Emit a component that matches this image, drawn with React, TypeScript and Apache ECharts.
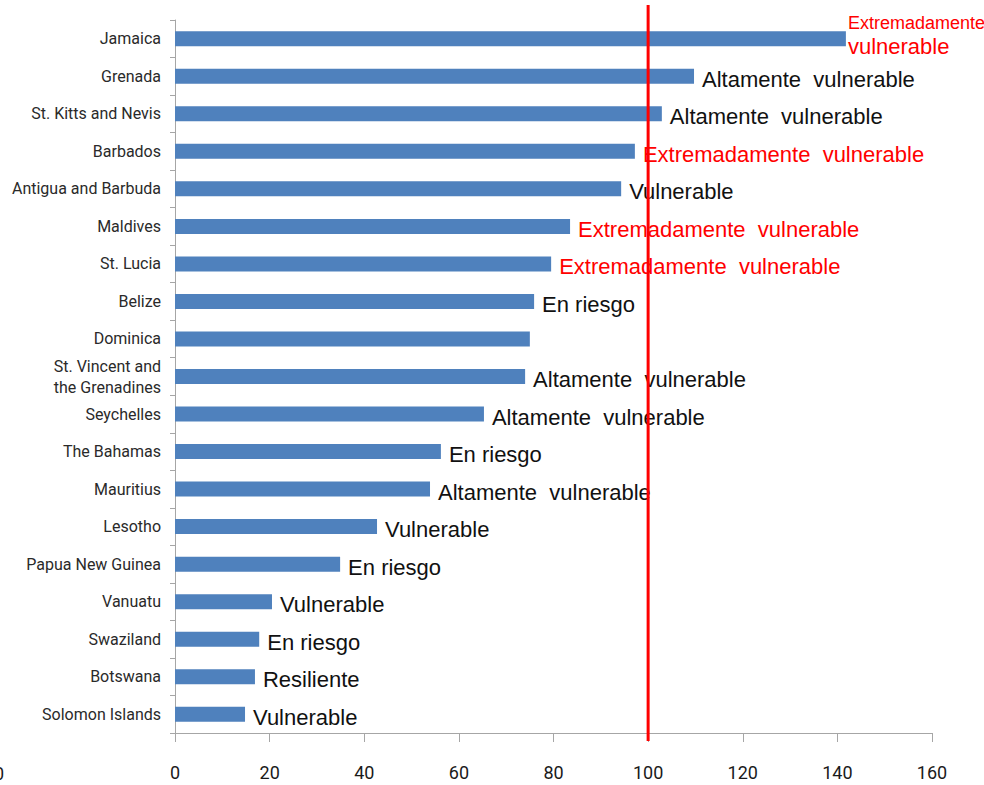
import React, { useEffect, useRef } from "react";
import * as echarts from "echarts";

const categories = [
  "Jamaica",
  "Grenada",
  "St. Kitts and Nevis",
  "Barbados",
  "Antigua and Barbuda",
  "Maldives",
  "St. Lucia",
  "Belize",
  "Dominica",
  "St. Vincent and\nthe Grenadines",
  "Seychelles",
  "The Bahamas",
  "Mauritius",
  "Lesotho",
  "Papua New Guinea",
  "Vanuatu",
  "Swaziland",
  "Botswana",
  "Solomon Islands",
];

const values = [
  141.8, 109.7, 102.9, 97.2, 94.3, 83.5, 79.5, 75.9, 75.0, 74.0, 65.3, 56.2, 53.9, 42.7,
  34.9, 20.5, 17.8, 16.9, 14.8,
];

const ratings = [
  "Extremadamente\nvulnerable",
  "Altamente  vulnerable",
  "Altamente  vulnerable",
  "Extremadamente  vulnerable",
  "Vulnerable",
  "Extremadamente  vulnerable",
  "Extremadamente  vulnerable",
  "En riesgo",
  "",
  "Altamente  vulnerable",
  "Altamente  vulnerable",
  "En riesgo",
  "Altamente  vulnerable",
  "Vulnerable",
  "En riesgo",
  "Vulnerable",
  "En riesgo",
  "Resiliente",
  "Vulnerable",
];

const xTicks = [0, 20, 40, 60, 80, 100, 120, 140, 160];
const threshold = 100;

const CAT = "Roboto, 'Liberation Sans', sans-serif";
const SANS = "'Liberation Sans', Arial, sans-serif";

export default function App() {
  const ref = useRef<HTMLDivElement>(null);

  useEffect(() => {
    if (!ref.current) return;
    const chart = echarts.init(ref.current, null, { renderer: "svg" });

    const data = values.map((v, i) => {
      const r = ratings[i];
      const red = r.startsWith("Extremadamente");
      if (r.includes("\n")) {
        const [l1, l2] = r.split("\n");
        return {
          value: v,
          label: {
            show: true,
            position: "right",
            distance: 2,
            offset: [0, -4],
            formatter: `{a|${l1}}\n{b|${l2}}`,
            rich: {
              a: { fontFamily: SANS, fontSize: 18, color: "#ff0000", lineHeight: 24, letterSpacing: -1 },
              b: { fontFamily: SANS, fontSize: 22, color: "#ff0000", lineHeight: 24 },
            },
          },
        };
      }
      return {
        value: v,
        label: {
          show: r !== "",
          color: red ? "#ff0000" : "#111111",
        },
      };
    });

    chart.setOption({
      animation: false,
      grid: {
        left: 175,
        right: 52,
        top: 20,
        bottom: 52,
        containLabel: false,
        outerBoundsMode: "none",
      },
      xAxis: {
        type: "value",
        min: xTicks[0],
        max: xTicks[xTicks.length - 1],
        interval: 20,
        splitLine: { show: false },
        axisLine: { show: true, lineStyle: { color: "#a6a6a6", width: 1 } },
        axisTick: { show: true, length: 9, lineStyle: { color: "#a6a6a6" } },
        axisLabel: {
          margin: 30,
          fontFamily: CAT,
          fontSize: 18,
          color: "#1a1a1a",
        },
      },
      yAxis: {
        type: "category",
        data: categories,
        inverse: true,
        axisLine: { show: true, lineStyle: { color: "#a6a6a6", width: 1 } },
        axisTick: { show: true, length: 5, lineStyle: { color: "#a6a6a6" } },
        axisLabel: {
          margin: 14,
          fontFamily: CAT,
          fontSize: 16,
          lineHeight: 21,
          color: "#2a2a2a",
          interval: 0,
        },
      },
      series: [
        {
          type: "bar",
          data,
          barWidth: 15,
          itemStyle: { color: "#4f81bd" },
          label: {
            show: true,
            position: "right",
            distance: 8,
            offset: [0, 3],
            fontFamily: SANS,
            fontSize: 22,
            formatter: (p: any) => ratings[p.dataIndex],
          },
        },
      ],
    });

    const px = chart.convertToPixel({ xAxisIndex: 0 }, threshold) as number;
    chart.setOption({
      graphic: [
        {
          type: "line",
          z: 100,
          shape: { x1: px, y1: 5, x2: px, y2: 741 },
          style: { stroke: "#ff0000", lineWidth: 3 },
        },
        {
          type: "text",
          x: -6,
          y: 773,
          style: {
            text: "0",
            fontFamily: CAT,
            fontSize: 18,
            fill: "#1a1a1a",
            verticalAlign: "middle",
          },
        },
      ],
    });

    return () => chart.dispose();
  }, []);

  return (
    <div
      ref={ref}
      style={{ position: "absolute", left: 0, top: 0, width: 984, height: 785 }}
    />
  );
}
